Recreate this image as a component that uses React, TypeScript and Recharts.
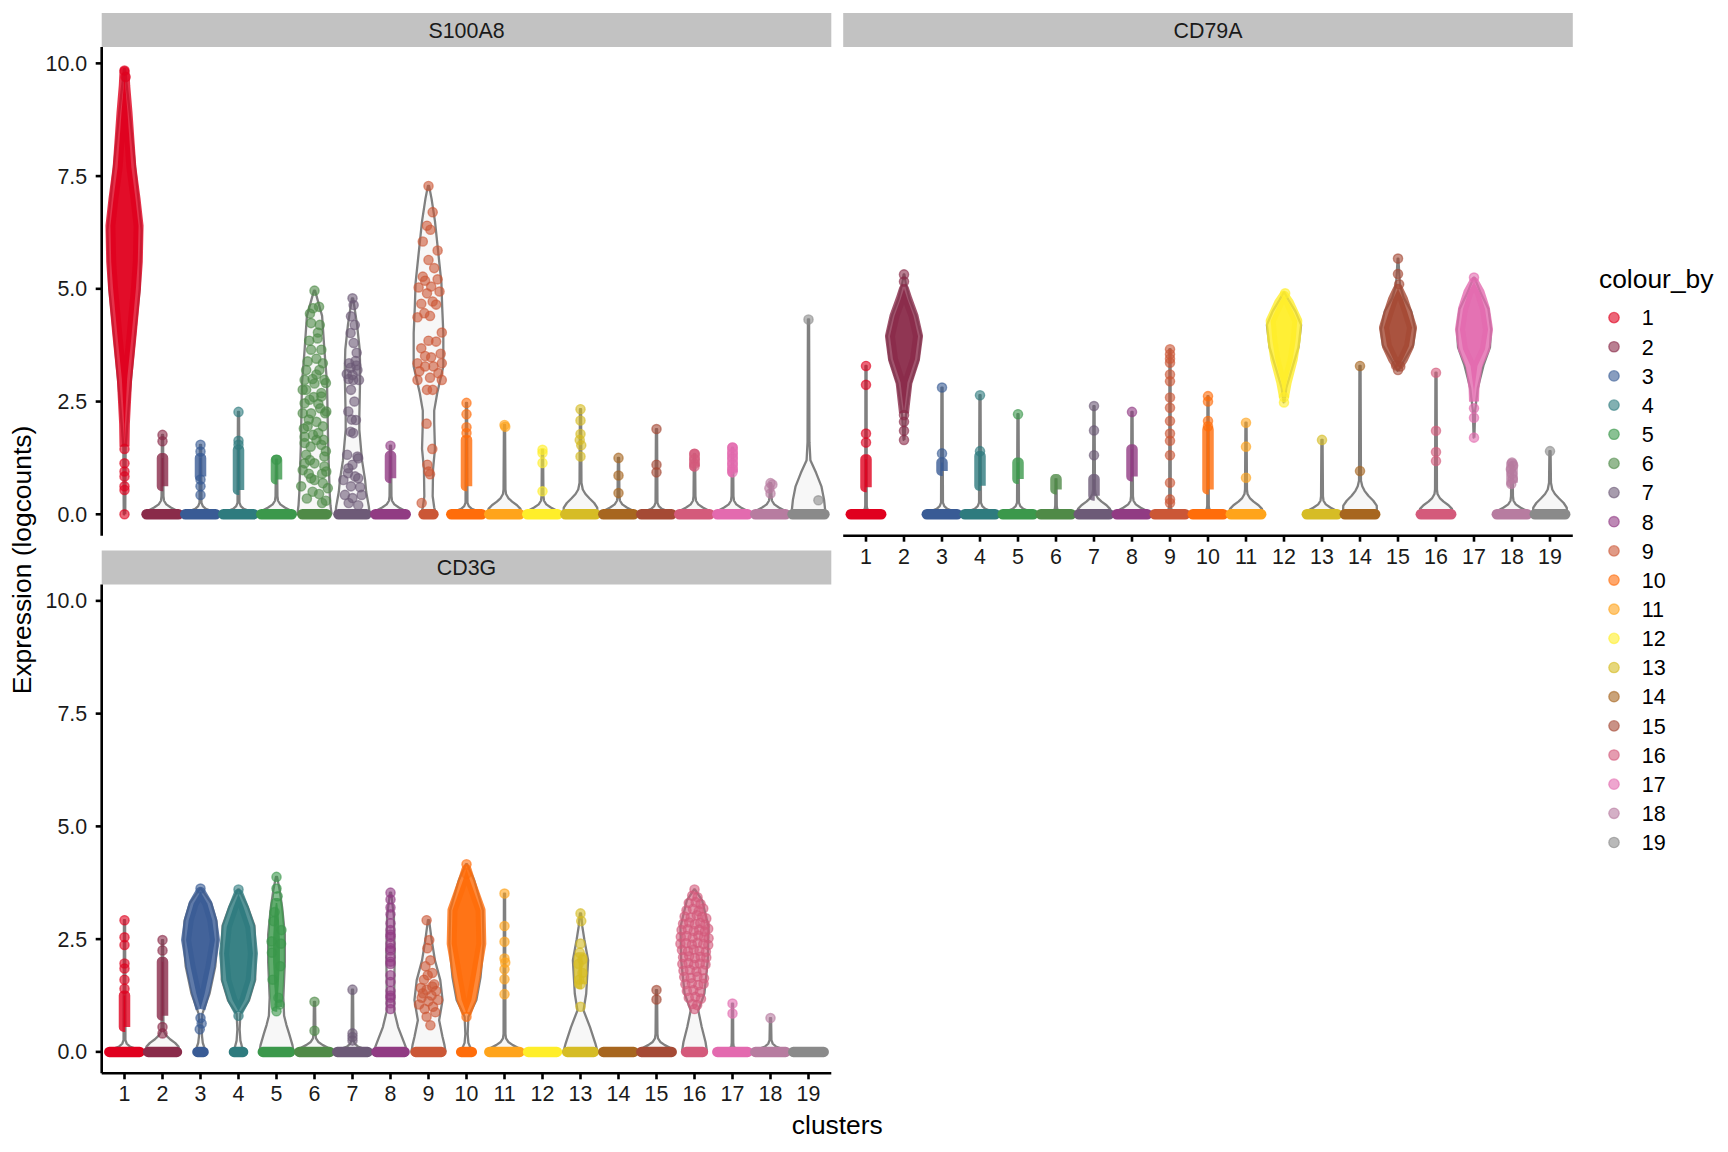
import React from 'react';
import { ComposedChart, Scatter, XAxis, YAxis } from 'recharts';

// ---------- shared data ----------
const CLUSTERS = [1, 2, 3, 4, 5, 6, 7, 8, 9, 10, 11, 12, 13, 14, 15, 16, 17, 18, 19];
const CLUSTER_COLOURS = [
  '#E0001E', '#8A2B4A', '#395B95', '#2E7B7E', '#3B984B', '#4F8A47', '#6D5A77', '#913B83', '#CB5736', '#FF6D0A',
  '#FFA41B', '#FFEE2A', '#D6BC25', '#A7661F', '#A54A35', '#D45A7B', '#E36AAF', '#B77CA0', '#8A8A8A',
];
const Y_TICKS = [0, 2.5, 5, 7.5, 10];
const X_DOMAIN = [0.4, 19.6];
const Y_DOMAIN = [-0.475, 10.363];
const FACET_NAMES = ['S100A8', 'CD79A', 'CD3G'];

// violin base shapes near zero: [value, half width in cluster units]
const FORK_TINY = [[0, 0.45], [0.04, 0.25], [0.08, 0.08], [0.12, 0.03], [0.2, 0.02]];
const FORK_SMALL = [[0, 0.45], [0.06, 0.32], [0.12, 0.14], [0.18, 0.06], [0.26, 0.025]];
const FORK_MED = [[0, 0.45], [0.08, 0.38], [0.15, 0.22], [0.22, 0.1], [0.3, 0.04], [0.4, 0.025]];
const FORK_WIDE = [[0, 0.45], [0.12, 0.42], [0.2, 0.33], [0.28, 0.2], [0.36, 0.1], [0.45, 0.04], [0.55, 0.025]];
const FORK_XWIDE = [[0, 0.45], [0.15, 0.44], [0.25, 0.36], [0.35, 0.24], [0.45, 0.13], [0.55, 0.06], [0.7, 0.025]];

// ---------- S100A8 ----------
const S100A8_VIOLINS = [
  [[0, 0.02], [1.5, 0.03], [2.5, 0.12], [4, 0.28], [5, 0.4], [6.3, 0.45], [7.7, 0.28], [8.9, 0.14], [9.5, 0.06], [9.87, 0.015]],
  [...FORK_MED, [1.76, 0.015]],
  [...FORK_SMALL, [1.54, 0.015]],
  [...FORK_SMALL, [2.27, 0.015]],
  [...FORK_MED, [1.21, 0.015]],
  [[0, 0.45], [0.2, 0.42], [0.47, 0.4], [1.5, 0.36], [2.9, 0.33], [3.65, 0.26], [4.4, 0.2], [4.7, 0.1], [4.96, 0.015]],
  [[0, 0.45], [0.17, 0.43], [0.5, 0.36], [0.77, 0.33], [1.2, 0.25], [1.87, 0.18], [2.17, 0.18], [3.0, 0.2], [3.3, 0.2], [3.65, 0.19], [4.2, 0.12], [4.6, 0.05], [4.79, 0.015]],
  [...FORK_MED, [1.52, 0.015]],
  [[0, 0.2], [0.15, 0.15], [0.4, 0.11], [1.0, 0.12], [1.45, 0.17], [2.03, 0.15], [2.3, 0.15], [2.69, 0.23], [3.28, 0.39], [4.02, 0.39], [4.6, 0.36], [5.13, 0.34], [5.86, 0.25], [6.5, 0.17], [7.0, 0.08], [7.28, 0.015]],
  [...FORK_SMALL, [2.47, 0.015]],
  [...FORK_WIDE, [1.98, 0.015]],
  [...FORK_MED, [1.43, 0.015]],
  [...FORK_XWIDE, [2.33, 0.015]],
  [...FORK_MED, [1.25, 0.015]],
  [...FORK_SMALL, [1.89, 0.015]],
  [...FORK_MED, [1.34, 0.015]],
  [...FORK_MED, [1.48, 0.015]],
  [...FORK_MED, [0.69, 0.015]],
  [[0, 0.45], [0.32, 0.41], [0.62, 0.34], [0.92, 0.2], [1.2, 0.05], [1.6, 0.025], [4.32, 0.015]],
];
const S100A8_ZERO = [0, 0.42, 0.4, 0.4, 0.4, 0.32, 0.37, 0.4, 0.13, 0.4, 0.4, 0.4, 0.4, 0.4, 0.4, 0.4, 0.4, 0.4, 0.42];
const S100A8_BLOBS = [
  [[1.5, 0], [2.0, 0.01], [2.5, 0.04], [3.0, 0.07], [4.0, 0.19], [5.0, 0.3], [5.6, 0.35], [6.4, 0.37], [7.0, 0.29], [7.7, 0.18], [8.9, 0.08], [9.5, 0.02], [9.82, 0]],
  [[0.62, 0.02], [1.25, 0.02]],
  [[0.84, 0.02], [1.25, 0.02]],
  [[0.54, 0.02], [1.43, 0.02]],
  [[0.77, 0.02], [1.21, 0.02]],
  [],
  [],
  [[0.8, 0.02], [1.3, 0.02]],
  [],
  [[0.62, 0.02], [1.65, 0.02]],
  [],
  [],
  [],
  [],
  [],
  [[1.06, 0.01], [1.34, 0.01]],
  [[0.93, 0.01], [1.48, 0.01]],
  [],
  [],
];
const S100A8_POINTS = [
  [[0, 9.84], [0.03, 9.7], [0, 1.45], [0, 1.13], [0, 0.95], [0, 0.84], [0, 0.62], [0, 0.54], [0, 0.0]],
  [[0, 1.76], [0, 1.62]],
  [[0, 1.54], [0, 1.39], [0, 0.77], [0, 0.62], [0, 0.43]],
  [[0, 2.27], [0, 1.63], [0, 1.54]],
  [[0, 1.21]],
  [[0, 4.96], [-0.04, 4.57], [-0.09, 4.24], [0.09, 4.03], [0.18, 3.65], [-0.09, 3.65], [-0.18, 3.39], [0.13, 3.2], [-0.26, 2.98], [0.26, 2.98],
    [0, 2.9], [-0.22, 2.76], [0.18, 2.61], [-0.26, 2.46], [0.31, 2.28], [-0.09, 2.24], [-0.18, 1.95], [0.22, 1.95], [-0.04, 1.76], [-0.26, 1.58],
    [0.18, 1.54], [-0.22, 1.32], [0.26, 1.28], [0, 1.13], [-0.31, 0.98], [0.31, 0.95], [-0.09, 0.8], [-0.35, 0.62], [0.22, 0.69], [0.35, 0.58],
    [-0.26, 1.13], [0.26, 1.06], [-0.31, 2.24], [0.28, 2.24], [-0.26, 1.72], [0.24, 1.65], [-0.1, 1.5], [0, 0.76], [-0.13, 2.54], [0.18, 2.69],
    [-0.31, 2.76], [0.3, 2.91], [0.05, 3.45], [-0.05, 3.0], [0.1, 2.45], [-0.15, 2.1], [0.1, 1.8], [-0.12, 1.2], [0.12, 0.45], [-0.2, 0.35],
    [0.3, 0.3], [0.08, 3.9], [-0.12, 4.45], [0.14, 4.2], [-0.14, 3.85], [0.05, 2.05], [-0.28, 1.9], [0.3, 1.4], [-0.05, 0.5], [0.2, 0.9],
    [-0.15, 0.9], [0.05, 1.65], [0.15, 2.35], [-0.02, 2.6], [0.22, 3.35], [-0.22, 3.2], [0.05, 3.1], [0.12, 4.6], [0.2, 0.25]],
  [[0, 4.79], [0.03, 4.64], [-0.04, 4.39], [0.06, 4.2], [-0.05, 4.02], [0.03, 3.8], [0.11, 3.58], [-0.09, 3.35], [0.13, 3.2], [0, 3.09],
    [-0.15, 3.11], [0.17, 2.98], [0.02, 2.98], [-0.04, 2.76], [0.05, 2.5], [-0.11, 2.28], [-0.02, 2.1], [0.09, 2.09], [-0.05, 1.83], [0.02, 1.8],
    [-0.14, 1.32], [0.13, 1.28], [0.15, 1.24], [0, 1.1], [-0.11, 1.02], [-0.12, 0.91], [0.07, 0.84], [0.15, 0.8], [-0.24, 0.76], [-0.04, 0.62],
    [0.24, 0.43], [-0.2, 0.43], [0, 0.36], [0.1, 3.3], [-0.05, 3.25], [0.08, 3.4], [-0.1, 3.0], [0.2, 0.6], [-0.1, 0.25], [0.15, 0.2]],
  [[0, 1.52]],
  [[0, 7.28], [0.11, 6.7], [-0.04, 6.4], [0.05, 6.31], [-0.15, 6.05], [0.24, 5.85], [0, 5.64], [0.15, 5.46], [-0.15, 5.27], [0.24, 5.21],
    [-0.09, 5.18], [-0.26, 5.03], [0.07, 5.05], [0.29, 4.94], [-0.04, 4.9], [0.11, 4.72], [-0.19, 4.67], [0.2, 4.65], [0.04, 4.4], [-0.29, 4.37],
    [-0.11, 4.46], [0.35, 4.03], [0, 3.85], [0.2, 3.83], [-0.19, 3.68], [-0.09, 3.51], [0.32, 3.56], [0.07, 3.48], [-0.29, 3.35], [0.35, 3.35],
    [-0.09, 3.28], [0.13, 3.28], [-0.24, 3.17], [0.26, 3.13], [0.04, 3.03], [-0.29, 2.98], [0.35, 2.98], [-0.04, 2.76], [0.11, 2.76], [-0.05, 2.01],
    [0.1, 1.45], [-0.03, 1.1], [0.04, 0.89], [-0.18, 0.25], [0, 0.95]],
  [[0, 2.47], [0, 2.22], [0, 1.93], [0, 1.8]],
  [[0, 1.98], [0.02, 1.94]],
  [[0, 1.43], [0, 1.36], [0, 1.14], [0, 0.51]],
  [[0, 2.33], [0, 2.08], [0, 1.78], [-0.02, 1.65], [0.02, 1.53], [0, 1.28]],
  [[0, 1.25], [0, 0.86], [0, 0.47]],
  [[0, 1.89], [0, 1.1], [0, 0.93]],
  [[0, 1.34], [0, 1.22], [0, 1.12], [0, 1.06]],
  [[0, 1.48], [0, 1.35], [0, 1.25], [0, 1.12], [0, 1.0], [0, 0.93]],
  [[0, 0.69], [0.05, 0.66], [-0.03, 0.58], [0, 0.46]],
  [[0, 4.32], [0.26, 0.31]],
];

// ---------- CD79A ----------
const CD79A_VIOLINS = [
  [...FORK_TINY, [3.29, 0.015]],
  [[1.65, 0.01], [2.2, 0.05], [2.9, 0.17], [3.44, 0.38], [3.95, 0.45], [4.4, 0.32], [4.77, 0.15], [5.1, 0.05], [5.32, 0.01]],
  [...FORK_SMALL, [2.81, 0.015]],
  [...FORK_SMALL, [2.64, 0.015]],
  [...FORK_SMALL, [2.22, 0.015]],
  [...FORK_TINY, [0.78, 0.015]],
  [...FORK_WIDE, [2.4, 0.015]],
  [...FORK_MED, [2.27, 0.015]],
  [...FORK_TINY, [3.66, 0.015]],
  [...FORK_TINY, [2.62, 0.015]],
  [...FORK_WIDE, [2.03, 0.015]],
  [[2.48, 0.01], [2.8, 0.06], [3.2, 0.2], [3.7, 0.38], [4.2, 0.45], [4.5, 0.3], [4.75, 0.12], [4.92, 0.01]],
  [...FORK_MED, [1.65, 0.015]],
  [[0, 0.45], [0.19, 0.44], [0.3, 0.35], [0.41, 0.22], [0.52, 0.12], [0.62, 0.06], [0.75, 0.025], [3.29, 0.015]],
  [[3.18, 0.01], [3.4, 0.15], [3.75, 0.4], [4.1, 0.45], [4.5, 0.35], [4.8, 0.15], [5.1, 0.05], [5.67, 0.01]],
  [...FORK_WIDE, [3.14, 0.015]],
  [[1.7, 0.01], [2.3, 0.03], [2.8, 0.1], [3.3, 0.25], [3.7, 0.42], [4.1, 0.45], [4.55, 0.38], [4.9, 0.18], [5.25, 0.01]],
  [...FORK_MED, [1.15, 0.015]],
  [...FORK_XWIDE, [1.4, 0.015]],
];
const CD79A_ZERO = [0.4, 0, 0.4, 0.4, 0.4, 0.4, 0.4, 0.4, 0.4, 0.4, 0.4, 0, 0.4, 0.4, 0, 0.4, 0, 0.4, 0.4];
const CD79A_BLOBS = [
  [[0.6, 0.02], [1.22, 0.02]],
  [[2.25, 0], [2.4, 0.02], [2.92, 0.09], [3.44, 0.29], [3.95, 0.37], [4.4, 0.25], [4.77, 0.09], [5.0, 0]],
  [[0.96, 0.02], [1.15, 0.02]],
  [[0.63, 0.02], [1.29, 0.02]],
  [[0.78, 0.02], [1.15, 0.02]],
  [[0.55, 0.02], [0.78, 0.02]],
  [[0.41, 0.02], [0.78, 0.02]],
  [[0.84, 0.02], [1.44, 0.02]],
  [],
  [[0.55, 0.02], [1.88, 0.02]],
  [],
  [[2.6, 0], [2.92, 0.07], [3.44, 0.23], [3.88, 0.31], [4.29, 0.35], [4.69, 0.13], [4.85, 0]],
  [],
  [],
  [[3.28, 0], [3.44, 0.13], [3.73, 0.29], [4.14, 0.37], [4.47, 0.25], [4.77, 0.13], [5.0, 0]],
  [],
  [[2.5, 0], [2.77, 0.01], [3.29, 0.09], [3.66, 0.29], [4.1, 0.37], [4.55, 0.29], [4.92, 0.15], [5.15, 0]],
  [[0.7, 0.02], [1.12, 0.02]],
  [],
];
const CD79A_POINTS = [
  [[0, 3.29], [0, 2.87], [0, 1.79], [0, 1.59]],
  [[0, 5.32], [0, 5.16], [0, 2.2], [0, 2.05], [0, 1.85], [0, 1.65]],
  [[0, 2.81], [0, 1.35]],
  [[0, 2.64], [0, 1.4]],
  [[0, 2.22]],
  [],
  [[0, 2.4], [0, 1.86], [0, 1.31]],
  [[0, 2.27]],
  [[0, 3.66], [0, 3.55], [0, 3.45], [0, 3.36], [0, 3.1], [0, 2.95], [0, 2.59], [0, 2.36], [0, 2.07], [0, 1.79], [0, 1.63], [0, 1.31], [0, 0.7], [0, 0.33], [0, 0.25]],
  [[0, 2.62], [0, 2.5], [0, 2.07], [0, 1.95]],
  [[0, 2.03], [0, 1.5], [0, 0.81]],
  [[0, 2.48], [0, 2.6], [0.03, 4.9]],
  [[0, 1.65]],
  [[0, 3.29], [0, 0.96]],
  [[0, 5.67], [0, 5.33], [0.03, 5.1], [0, 3.2], [-0.05, 3.3], [0.06, 3.28]],
  [[0, 3.14], [0, 1.85], [0, 1.38], [0, 1.18]],
  [[0, 5.25], [0, 2.35], [0, 2.14], [0, 1.7]],
  [[0, 1.15], [0.03, 1.08], [-0.03, 1.0], [0, 0.9], [0.02, 0.78], [-0.02, 0.67]],
  [[0, 1.4]],
];

// ---------- CD3G ----------
const CD3G_VIOLINS = [
  [...FORK_SMALL, [2.92, 0.015]],
  [...FORK_WIDE, [2.48, 0.015]],
  [[0, 0.12], [0.1, 0.1], [0.2, 0.06], [0.35, 0.04], [0.6, 0.03], [0.85, 0.05], [1.3, 0.24], [1.9, 0.39], [2.5, 0.45], [2.9, 0.42], [3.3, 0.28], [3.62, 0.015]],
  [[0, 0.12], [0.12, 0.09], [0.25, 0.05], [0.5, 0.03], [0.85, 0.05], [1.15, 0.28], [1.6, 0.44], [2.2, 0.45], [2.8, 0.42], [3.2, 0.25], [3.6, 0.015]],
  [[0, 0.45], [0.15, 0.42], [0.41, 0.33], [0.6, 0.26], [0.8, 0.2], [1.2, 0.18], [2.0, 0.22], [2.6, 0.22], [3.2, 0.15], [3.6, 0.08], [3.88, 0.015]],
  [...FORK_MED, [1.11, 0.015]],
  [...FORK_SMALL, [1.38, 0.015]],
  [[0, 0.45], [0.22, 0.35], [0.55, 0.2], [0.9, 0.1], [1.4, 0.1], [2.2, 0.11], [3.0, 0.09], [3.53, 0.015]],
  [[0, 0.45], [0.15, 0.42], [0.33, 0.37], [0.7, 0.28], [1.15, 0.37], [1.59, 0.31], [2.03, 0.17], [2.5, 0.08], [2.92, 0.015]],
  [[0, 0.14], [0.1, 0.1], [0.2, 0.05], [0.4, 0.03], [0.78, 0.05], [1.15, 0.26], [1.66, 0.37], [2.4, 0.45], [3.14, 0.43], [3.81, 0.2], [4.16, 0.015]],
  [...FORK_MED, [3.51, 0.015]],
  [],
  [[0, 0.45], [0.19, 0.39], [0.55, 0.25], [0.92, 0.08], [1.29, 0.15], [2.03, 0.2], [2.5, 0.1], [2.77, 0.05], [3.07, 0.015]],
  [],
  [...FORK_MED, [1.37, 0.015]],
  [[0, 0.33], [0.22, 0.29], [0.55, 0.19], [0.92, 0.1], [1.29, 0.26], [2.03, 0.35], [2.77, 0.37], [3.36, 0.2], [3.6, 0.015]],
  [...FORK_TINY, [1.07, 0.015]],
  [...FORK_SMALL, [0.75, 0.015]],
  [],
];
const CD3G_ZERO = [0.4, 0.38, 0.08, 0.12, 0.36, 0.4, 0.4, 0.37, 0.34, 0.14, 0.4, 0.38, 0.35, 0.4, 0.4, 0.22, 0.4, 0.4, 0.4];
const CD3G_BLOBS = [
  [[0.55, 0.02], [1.25, 0.02]],
  [[0.8, 0.02], [2.0, 0.02]],
  [[0.95, 0], [1.29, 0.11], [1.88, 0.26], [2.48, 0.38], [2.92, 0.31], [3.29, 0.18], [3.55, 0]],
  [[0.9, 0], [1.15, 0.16], [1.59, 0.32], [2.18, 0.38], [2.77, 0.31], [3.22, 0.13], [3.5, 0]],
  [[1.0, 0.02], [1.5, 0.06], [2.0, 0.09], [2.5, 0.09], [3.0, 0.06], [3.3, 0.02]],
  [],
  [],
  [],
  [],
  [[0.85, 0], [1.15, 0.13], [1.66, 0.24], [2.4, 0.39], [3.14, 0.37], [3.81, 0.09], [4.05, 0]],
  [],
  [],
  [[1.5, 0.04], [2.1, 0.05]],
  [],
  [],
  [],
  [],
  [],
  [],
];
const CD3G_POINTS = [
  [[0, 2.92], [0, 2.54], [0, 2.37], [0, 1.96], [0, 1.85], [0, 1.6], [0, 1.4]],
  [[0, 2.48], [0, 2.25], [0, 0.55], [0, 0.41]],
  [[0, 3.62], [0, 0.75], [0.03, 0.63], [-0.02, 0.5]],
  [[0, 3.6], [0, 0.8]],
  [[0, 3.88], [0, 3.62], [0.03, 3.45], [-0.05, 3.1], [-0.08, 2.9], [0.13, 2.7], [-0.13, 2.45], [0.12, 2.4], [-0.12, 2.2], [0.1, 1.9], [-0.1, 1.6], [0.08, 1.05], [0.05, 1.2], [0, 0.9]],
  [[0, 1.11], [0, 0.47]],
  [[0, 1.38], [0, 0.41], [0, 0.33], [0, 0.25]],
  [[0, 3.53], [0, 3.38], [0, 3.2], [0, 3.05], [0, 2.85], [0, 2.7], [0, 2.6], [0, 2.55], [0, 2.4], [0, 2.3], [0, 2.25], [0, 2.1], [0, 2.0], [0, 1.95], [0, 1.7], [0, 1.55], [0, 1.35], [0, 1.25], [0, 1.2], [0, 1.08], [0, 0.95]],
  [[-0.05, 2.92], [0.02, 2.48], [-0.03, 2.3], [0.05, 2.03], [-0.08, 1.9], [0.1, 1.75], [-0.12, 1.6], [0.15, 1.5], [-0.2, 1.42], [0.2, 1.35], [-0.05, 1.38], [0.08, 1.25],
    [-0.18, 1.2], [0.25, 1.15], [0.0, 1.12], [-0.25, 1.05], [0.12, 1.0], [-0.1, 0.95], [0.18, 0.88], [-0.05, 0.78], [0.05, 0.59], [-0.15, 1.3], [0.1, 1.45], [-0.02, 1.7]],
  [[0, 4.16], [0, 3.95], [0, 0.78]],
  [[0, 3.51], [0, 2.79], [0, 2.44], [0, 2.07], [0.02, 1.98], [0, 1.83], [0, 1.61], [0, 1.28]],
  [],
  [[0, 3.07], [0.02, 2.9], [0, 2.4], [-0.02, 2.2], [0.05, 2.05], [-0.05, 1.95], [0.05, 1.75], [-0.03, 1.6], [0, 1.5], [0, 1.0]],
  [],
  [[0, 1.37], [0, 1.16]],
  [[0, 3.6], [-0.06, 3.46], [0.08, 3.43], [-0.15, 3.3], [0.03, 3.32], [0.16, 3.28], [-0.21, 3.14], [-0.04, 3.17], [0.11, 3.12], [0.23, 3.18],
    [-0.26, 3.0], [-0.1, 2.98], [0.06, 3.03], [0.2, 2.99], [0.31, 2.96], [-0.3, 2.84], [-0.14, 2.87], [0.01, 2.83], [0.15, 2.86], [0.28, 2.82],
    [-0.34, 2.7], [-0.18, 2.72], [-0.02, 2.68], [0.12, 2.71], [0.27, 2.67], [0.36, 2.73], [-0.36, 2.55], [-0.21, 2.57], [-0.05, 2.53], [0.1, 2.58],
    [0.25, 2.54], [0.37, 2.52], [-0.37, 2.4], [-0.22, 2.41], [-0.07, 2.38], [0.08, 2.42], [0.23, 2.39], [0.36, 2.37], [-0.33, 2.26], [-0.17, 2.23],
    [-0.02, 2.27], [0.13, 2.24], [0.3, 2.22], [-0.3, 2.1], [-0.14, 2.12], [0.01, 2.08], [0.16, 2.11], [0.31, 2.09], [-0.32, 1.95], [-0.16, 1.97],
    [-0.01, 1.93], [0.14, 1.96], [0.29, 1.94], [-0.29, 1.8], [-0.12, 1.82], [0.05, 1.78], [0.22, 1.81], [-0.27, 1.66], [-0.1, 1.64], [0.08, 1.67],
    [0.25, 1.63], [-0.24, 1.5], [-0.07, 1.52], [0.1, 1.48], [0.24, 1.51], [-0.2, 1.35], [-0.03, 1.37], [0.14, 1.33], [-0.15, 1.2], [0.02, 1.22],
    [0.17, 1.18], [-0.05, 1.06], [0.07, 1.04], [0, 0.95]],
  [[0, 1.07], [0, 0.85]],
  [[0, 0.75]],
  [],
];

// ---------- helpers ----------
const FONT = '"Liberation Sans", Arial, Helvetica, sans-serif';
const noShape = () => <g />;

function outline(c: number, prof: number[][]) {
  if (!prof || prof.length === 0) return [];
  const right = prof.map(([y, w]) => ({ x: c + w, y }));
  const left = [...prof].reverse().map(([y, w]) => ({ x: c - w, y }));
  return [...right, ...left, right[0]];
}

function makeDot(colour: string) {
  return (props: any) => (
    <circle cx={props.cx} cy={props.cy} r={4.6} fill={colour} fillOpacity={0.6} stroke={colour} strokeOpacity={0.6} strokeWidth={1.4} />
  );
}

type FacetProps = {
  violins: number[][][];
  zero: number[];
  blobs: number[][][];
  points: number[][][];
  showX: boolean;
  showY: boolean;
  margin: { top: number; right: number; bottom: number; left: number };
};

function Facet({ violins, zero, blobs, points, showX, showY, margin }: FacetProps) {
  const violinSeries = CLUSTERS.map((c, i) => {
    const d = outline(c, violins[i]);
    if (!d.length) return null;
    return (
      <Scatter key={`v${c}`} data={d} shape={noShape} isAnimationActive={false} legendType="none"
        line={{ stroke: '#808080', strokeWidth: 2.3, fill: '#F7F7F7', strokeLinejoin: 'round' }} />
    );
  });
  const bandSeries = CLUSTERS.map((c, i) => {
    const hw = zero[i];
    if (!hw) return null;
    return (
      <Scatter key={`z${c}`} data={[{ x: c - hw, y: 0 }, { x: c + hw, y: 0 }]} shape={noShape} isAnimationActive={false} legendType="none"
        line={{ stroke: CLUSTER_COLOURS[i], strokeWidth: 10.5, strokeLinecap: 'round' }} />
    );
  });
  const blobSeries = CLUSTERS.map((c, i) => {
    const d = outline(c, blobs[i]);
    if (!d.length) return null;
    return (
      <Scatter key={`b${c}`} data={d} shape={noShape} isAnimationActive={false} legendType="none"
        line={{ stroke: CLUSTER_COLOURS[i], strokeOpacity: 0.8, strokeWidth: 10, strokeLinejoin: 'round', fill: CLUSTER_COLOURS[i], fillOpacity: 0.95 }} />
    );
  });
  const pointSeries = CLUSTERS.map((c, i) => {
    const pts = points[i];
    if (!pts || !pts.length) return null;
    return (
      <Scatter key={`p${c}`} data={pts.map(([dx, y]) => ({ x: c + dx, y }))} shape={makeDot(CLUSTER_COLOURS[i])}
        isAnimationActive={false} legendType="none" />
    );
  });
  return (
    <div style={{ position: 'absolute', left: 0, top: 0 }}>
      <ComposedChart width={1728} height={1152} margin={margin}>
        <XAxis type="number" dataKey="x" domain={X_DOMAIN} ticks={CLUSTERS} interval={0} allowDataOverflow hide={!showX}
          height={60} tickSize={6} tickMargin={7}
          axisLine={{ stroke: '#000', strokeWidth: 2.6 }} tickLine={{ stroke: '#000', strokeWidth: 2.6 }}
          tick={{ fill: '#1A1A1A', fontSize: 21.4, fontFamily: FONT }} />
        <YAxis type="number" dataKey="y" domain={Y_DOMAIN} ticks={Y_TICKS} interval={0} allowDataOverflow hide={!showY}
          width={70} tickSize={6} tickMargin={8.5} tickFormatter={(v: number) => v.toFixed(1)}
          axisLine={{ stroke: '#000', strokeWidth: 2.6 }} tickLine={{ stroke: '#000', strokeWidth: 2.6 }}
          tick={{ fill: '#1A1A1A', fontSize: 21.4, fontFamily: FONT }} />
        {violinSeries}
        {bandSeries}
        {blobSeries}
        {pointSeries}
      </ComposedChart>
    </div>
  );
}

const STRIPS = [
  { x: 101.7, y: 13, label: FACET_NAMES[0] },
  { x: 843.2, y: 13, label: FACET_NAMES[1] },
  { x: 101.7, y: 550.5, label: FACET_NAMES[2] },
];

const LEGEND_TOP = 317.6;
const LEGEND_STEP = 29.16;

export default function App() {
  return (
    <div style={{ position: 'absolute', left: 0, top: 0, width: 1728, height: 1152, background: '#fff', fontFamily: FONT }}>
      <svg width={1728} height={1152} style={{ position: 'absolute', left: 0, top: 0 }} fontFamily={FONT}>
        {STRIPS.map((s) => (
          <g key={s.label}>
            <rect x={s.x} y={s.y} width={729.6} height={34} fill="#C2C2C2" />
            <text x={s.x + 364.8} y={s.y + 24.8} textAnchor="middle" fontSize={21.4} fill="#1A1A1A">{s.label}</text>
          </g>
        ))}
        <text x={31} y={560} transform="rotate(-90 31 560)" textAnchor="middle" fontSize={26.4} fill="#000">Expression (logcounts)</text>
        <text x={837.3} y={1134} textAnchor="middle" fontSize={26.4} fill="#000">clusters</text>
        <text x={1599} y={288} fontSize={26.4} fill="#000">colour_by</text>
        {CLUSTERS.map((c, i) => (
          <g key={`lg${c}`}>
            <circle cx={1614} cy={LEGEND_TOP + i * LEGEND_STEP} r={5.2} fill={CLUSTER_COLOURS[i]} fillOpacity={0.6} stroke={CLUSTER_COLOURS[i]} strokeOpacity={0.6} strokeWidth={1.3} />
            <text x={1641.7} y={LEGEND_TOP + i * LEGEND_STEP + 7.8} fontSize={21.6} fill="#000">{String(c)}</text>
          </g>
        ))}
      </svg>
      <Facet violins={S100A8_VIOLINS} zero={S100A8_ZERO} blobs={S100A8_BLOBS} points={S100A8_POINTS}
        showX={false} showY={true} margin={{ top: 47, right: 896.7, bottom: 616.3, left: 31.7 }} />
      <Facet violins={CD79A_VIOLINS} zero={CD79A_ZERO} blobs={CD79A_BLOBS} points={CD79A_POINTS}
        showX={true} showY={false} margin={{ top: 47, right: 155.2, bottom: 556.3, left: 843.2 }} />
      <Facet violins={CD3G_VIOLINS} zero={CD3G_ZERO} blobs={CD3G_BLOBS} points={CD3G_POINTS}
        showX={true} showY={true} margin={{ top: 584.5, right: 896.7, bottom: 18.7, left: 31.7 }} />
    </div>
  );
}
